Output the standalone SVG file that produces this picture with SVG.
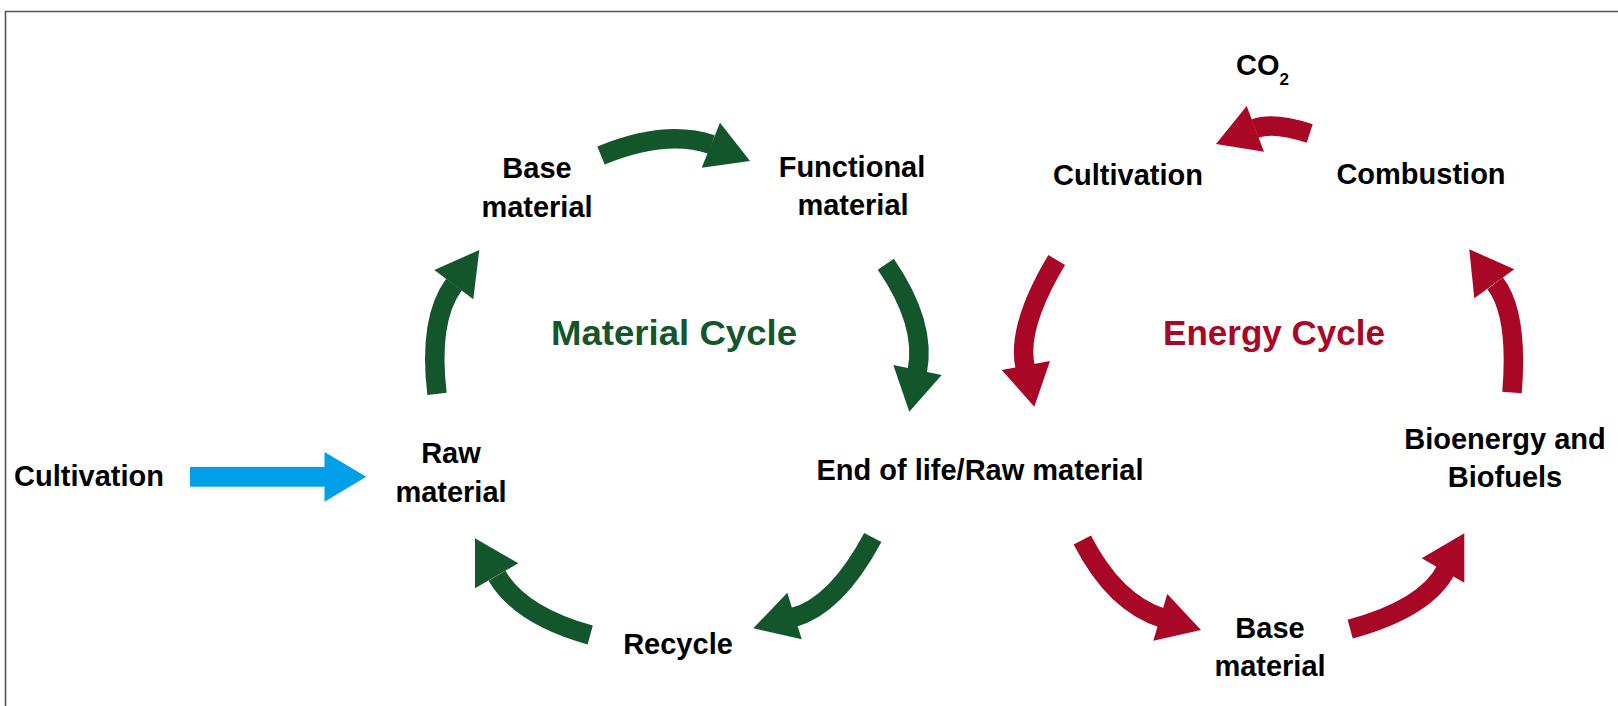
<svg xmlns="http://www.w3.org/2000/svg" width="1618" height="706" viewBox="0 0 1618 706">
  <style>
    .lbl { font-family: "Liberation Sans", Arial, sans-serif; font-weight: bold; font-size: 29px; fill: #000; text-anchor: middle; }
    .title { font-family: "Liberation Sans", Arial, sans-serif; font-weight: bold; font-size: 35px; text-anchor: middle; }
    .g-title { fill: #13562b; }
    .r-title { fill: #a80726; }
    .shaft { fill: none; stroke-width: 19.5; stroke-linecap: butt; }
    .green .shaft { stroke: #13562b; }
    .green .head { fill: #13562b; }
    .red .shaft { stroke: #a80726; }
    .red .head { fill: #a80726; }
    .blue { fill: #00a0e9; }
    .frame { fill: none; stroke: #555555; stroke-width: 1.6; }
  </style>

  <rect width="1618" height="706" fill="#ffffff"/>
  <!-- outer frame: only top and left edges fall inside the canvas -->
  <polyline class="frame" points="5.5,706 5.5,11.5 1618,11.5"/>

  <!-- cycle titles -->
  <text id="material-cycle" class="title g-title" x="674" y="345" textLength="246" lengthAdjust="spacingAndGlyphs">Material Cycle</text>
  <text id="energy-cycle" class="title r-title" x="1274" y="345">Energy Cycle</text>

  <!-- nodes -->
  <g id="cultivation-input">
    <text class="lbl" x="89" y="486">Cultivation</text>
  </g>
  <g id="raw-material">
    <text class="lbl" x="451" y="463">Raw</text>
    <text class="lbl" x="451" y="502">material</text>
  </g>
  <g id="base-material-m">
    <text class="lbl" x="537" y="178">Base</text>
    <text class="lbl" x="537" y="217">material</text>
  </g>
  <g id="functional-material">
    <text class="lbl" x="852" y="177">Functional</text>
    <text class="lbl" x="853" y="215">material</text>
  </g>
  <g id="end-of-life">
    <text class="lbl" x="980" y="480">End of life/Raw material</text>
  </g>
  <g id="recycle">
    <text class="lbl" x="678" y="654">Recycle</text>
  </g>
  <g id="co2">
    <text class="lbl" x="1236" y="75" style="text-anchor:start">CO<tspan font-size="17" dy="10">2</tspan></text>
  </g>
  <g id="cultivation-energy">
    <text class="lbl" x="1128" y="185">Cultivation</text>
  </g>
  <g id="combustion">
    <text class="lbl" x="1421" y="184">Combustion</text>
  </g>
  <g id="bioenergy">
    <text class="lbl" x="1505" y="449">Bioenergy and</text>
    <text class="lbl" x="1505" y="487">Biofuels</text>
  </g>
  <g id="base-material-e">
    <text class="lbl" x="1270" y="638">Base</text>
    <text class="lbl" x="1270" y="676">material</text>
  </g>

  <!-- connectors -->
  <g id="connectors">
    <!-- feed arrow into the material cycle -->
    <g id="cultivation-to-raw">
      <rect class="blue" x="190" y="467" width="135" height="19.7"/>
      <polygon class="blue" points="324.5,452 366.3,476.7 324.5,501.7"/>
    </g>

    <!-- material cycle -->
    <g class="green">
      <g id="base-to-functional">
        <path class="shaft" d="M601,155.5 Q666,129 711.5,144.5"/>
        <polygon class="head" points="720,122.7 750,161 701.7,167.7"/>
      </g>
      <g id="functional-to-end">
        <path class="shaft" d="M885.8,264.2 Q926.6,323.6 917.3,371"/>
        <polygon class="head" points="893.3,365 909.3,411.7 941.7,375"/>
      </g>
      <g id="end-to-recycle">
        <path class="shaft" d="M872.8,537.5 Q836.3,605.8 793.2,617.5"/>
        <polygon class="head" points="787.3,592.7 753.3,628.3 801.7,639.3"/>
      </g>
      <g id="recycle-to-raw">
        <path class="shaft" d="M590.2,635 Q520.3,615.6 497,575.8"/>
        <polygon class="head" points="518.3,563.3 475,538.3 475,588.3"/>
      </g>
      <g id="raw-to-base">
        <path class="shaft" d="M437,393.8 Q428.2,319.5 454,284.4"/>
        <polygon class="head" points="434.3,270 479.3,250 473.3,299.3"/>
      </g>
    </g>

    <!-- energy cycle -->
    <g class="red">
      <g id="cultivation-to-end">
        <path class="shaft" d="M1056.7,260 Q1016.2,327.7 1025.2,367.2"/>
        <polygon class="head" points="1001.7,370 1034.3,406.7 1050,361"/>
      </g>
      <g id="end-to-base">
        <path class="shaft" d="M1082.3,540 Q1114.8,603.3 1162.7,618.1"/>
        <polygon class="head" points="1167.3,594 1201,630 1153.3,640.7"/>
      </g>
      <g id="base-to-bioenergy">
        <path class="shaft" d="M1350.2,629.2 Q1426.6,608.3 1446.3,569.2"/>
        <polygon class="head" points="1421.7,558.3 1464.3,533.3 1464.3,582.7"/>
      </g>
      <g id="bioenergy-to-combustion">
        <path class="shaft" d="M1512,392.5 Q1518.5,314.1 1495.2,283.4"/>
        <polygon class="head" points="1469.3,249.3 1514.3,269.3 1474.3,298.3"/>
      </g>
      <g id="combustion-to-co2">
        <path class="shaft" d="M1309.7,133.5 Q1273.1,121.6 1255,128.7"/>
        <polygon class="head" points="1246.7,106 1216,144 1264,151.7"/>
      </g>
    </g>
  </g>
</svg>
